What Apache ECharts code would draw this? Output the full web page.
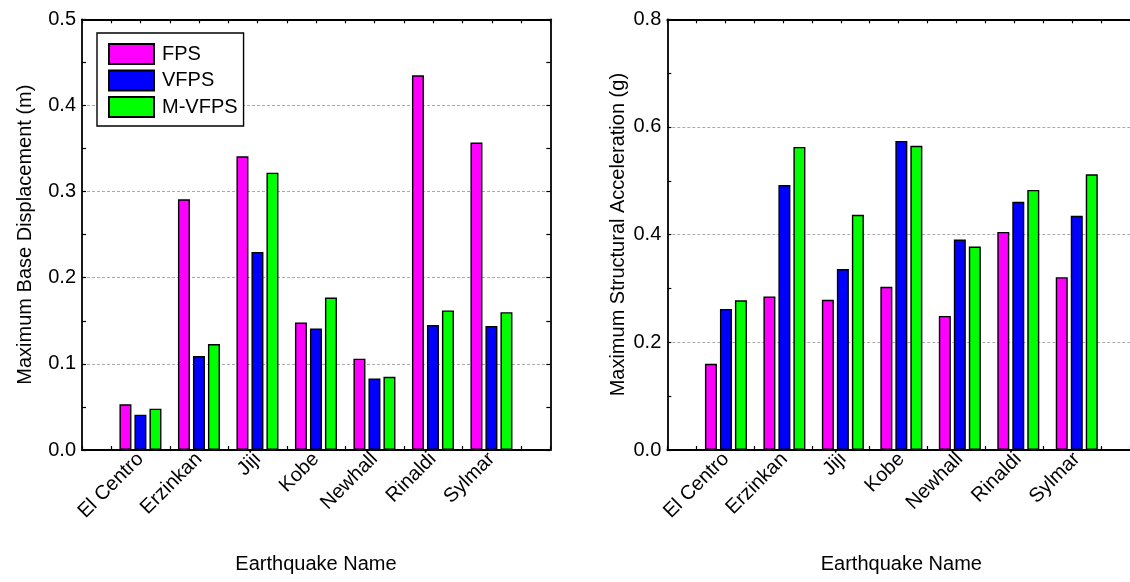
<!DOCTYPE html>
<html>
<head>
<meta charset="utf-8">
<script src="https://cdn.jsdelivr.net/npm/echarts@6/dist/echarts.min.js"></script>
<style>
  html, body { margin: 0; padding: 0; background: #fff; }
  #chart { width: 1130px; height: 582px; }
</style>
</head>
<body>
<div id="chart"></div>
<script>
  // 地震名称
  const quakeNames = ['El Centro', 'Erzinkan', 'Jiji', 'Kobe', 'Newhall', 'Rinaldi', 'Sylmar']
  const seriesNames = ['FPS', 'VFPS', 'M-VFPS']
  const seriesColors = ['#ff00ff', '#0000ff', '#00ff00']

  // 最大基底位移 (m)
  const dispFPS = [0.053, 0.291, 0.341, 0.148, 0.106, 0.435, 0.357]
  const dispVFPS = [0.041, 0.109, 0.230, 0.141, 0.083, 0.145, 0.144]
  const dispMVFPS = [0.048, 0.123, 0.322, 0.177, 0.085, 0.162, 0.160]

  // 最大结构加速度 (g)
  const accFPS = [0.160, 0.285, 0.279, 0.303, 0.249, 0.405, 0.321]
  const accVFPS = [0.262, 0.492, 0.336, 0.574, 0.391, 0.461, 0.435]
  const accMVFPS = [0.278, 0.563, 0.437, 0.565, 0.378, 0.483, 0.512]

  const fontFamily = '"Liberation Sans", Arial, sans-serif'
  const fontSize = 20

  const chartInstance = echarts.init(document.getElementById('chart'), null, { renderer: 'canvas' })

  // 外框用的 x 轴（半个类别一个刻度）
  function frameX(gridIndex, position){
    return {
      type: 'value', gridIndex: gridIndex, position: position,
      min: 0, max: 16, interval: 1,
      axisLine: { show: true, onZero: false, lineStyle: { color: '#000', width: 1.8 } },
      axisTick: { show: true, inside: true, length: 4, lineStyle: { color: '#000', width: 1.2 } },
      axisLabel: { show: false },
      splitLine: { show: false }
    }
  }

  function frameY(gridIndex, position, max, interval, name, nameGap, showLine){
    const left = position === 'left'
    return {
      type: 'value', gridIndex: gridIndex, position: position,
      min: 0, max: max, interval: interval,
      name: left ? name : '',
      nameLocation: 'middle', nameRotate: 90, nameGap: nameGap,
      nameTextStyle: { fontFamily: fontFamily, fontSize: fontSize, color: '#000' },
      axisLine: { show: showLine, onZero: false, lineStyle: { color: '#000', width: 1.8 } },
      axisTick: { show: showLine, inside: true, length: 4, lineStyle: { color: '#000', width: 1.2 } },
      minorTick: { show: showLine, splitNumber: 2, length: 4, lineStyle: { color: '#000', width: 1.2 } },
      axisLabel: {
        show: left, margin: 6, fontFamily: fontFamily, fontSize: fontSize, color: '#000',
        formatter: v => v.toFixed(1)
      },
      splitLine: { show: left, lineStyle: { color: '#aaa', width: 1, type: [3, 2] } }
    }
  }

  function barX(gridIndex){
    return {
      type: 'category', gridIndex: gridIndex, data: quakeNames, boundaryGap: true,
      name: 'Earthquake Name', nameLocation: 'middle', nameGap: 104,
      nameTextStyle: { fontFamily: fontFamily, fontSize: fontSize, color: '#000' },
      axisLine: { show: false },
      axisTick: { show: false },
      axisLabel: { rotate: 45, margin: 6, interval: 0, fontFamily: fontFamily, fontSize: fontSize, color: '#000' },
      splitLine: { show: false }
    }
  }

  function barY(gridIndex, max){
    return {
      type: 'value', gridIndex: gridIndex, min: 0, max: max, show: false,
      splitLine: { show: false }
    }
  }

  function makeSeries(name, color, data, xIndex, yIndex){
    return {
      name: name, type: 'bar', xAxisIndex: xIndex, yAxisIndex: yIndex,
      data: data, barWidth: 12, barGap: '25%',
      itemStyle: { color: color, borderColor: '#000', borderWidth: 1.4 }
    }
  }

  const option = {
    animation: false,
    backgroundColor: '#fff',
    textStyle: { fontFamily: fontFamily },
    legend: {
      data: seriesNames,
      orient: 'vertical',
      left: 97, top: 33,
      padding: [10, 6, 8, 11],
      itemWidth: 45, itemHeight: 20, itemGap: 4.5,
      icon: 'rect',
      backgroundColor: '#fff',
      borderColor: '#000', borderWidth: 1.4, borderRadius: 0,
      textStyle: { fontFamily: fontFamily, fontSize: fontSize, color: '#000', padding: [0, 0, 0, 3] }
    },
    grid: [
      { left: 82, top: 19.3, width: 468.3, height: 430.7 },
      { left: 111.2, top: 19.3, width: 409.5, height: 430.7 },
      { left: 667.3, top: 19.3, right: -6, height: 430.7 },
      { left: 696.7, top: 19.3, width: 409.3, height: 430.7 }
    ],
    xAxis: [
      frameX(0, 'bottom'), frameX(0, 'top'), barX(1),
      frameX(2, 'bottom'), frameX(2, 'top'), barX(3)
    ],
    yAxis: [
      frameY(0, 'left', 0.5, 0.1, 'Maximum Base Displacement (m)', 47, true),
      frameY(0, 'right', 0.5, 0.1, '', 0, true),
      barY(1, 0.5),
      frameY(2, 'left', 0.8, 0.2, 'Maximum Structural Acceleration (g)', 39, true),
      // 右图右侧边框在原图中被裁掉
      frameY(2, 'right', 0.8, 0.2, '', 0, false),
      barY(3, 0.8)
    ],
    series: [
      makeSeries('FPS', seriesColors[0], dispFPS, 2, 2),
      makeSeries('VFPS', seriesColors[1], dispVFPS, 2, 2),
      makeSeries('M-VFPS', seriesColors[2], dispMVFPS, 2, 2),
      makeSeries('FPS', seriesColors[0], accFPS, 5, 5),
      makeSeries('VFPS', seriesColors[1], accVFPS, 5, 5),
      makeSeries('M-VFPS', seriesColors[2], accMVFPS, 5, 5)
    ]
  }

  chartInstance.setOption(option)
</script>
</body>
</html>
